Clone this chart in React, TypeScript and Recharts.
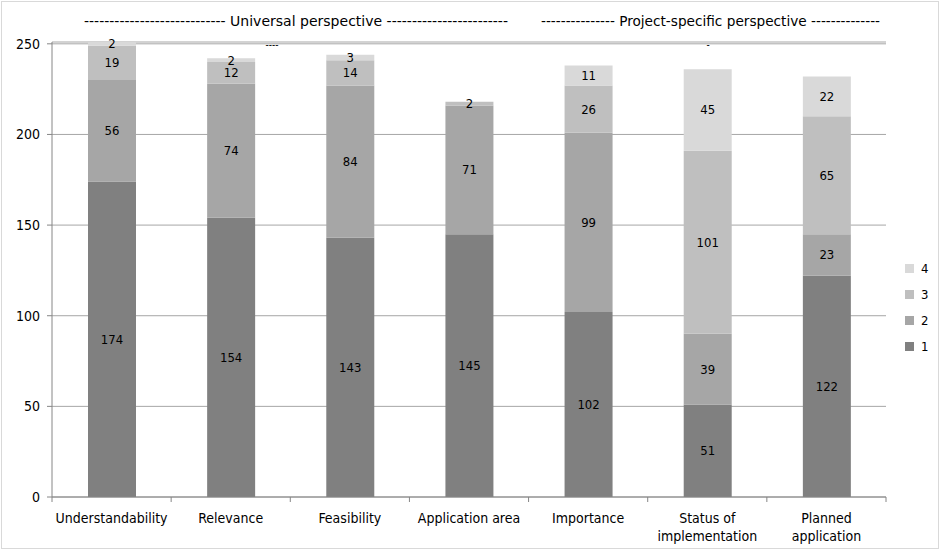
import React from 'react';
import { BarChart, Bar, XAxis, YAxis, CartesianGrid, Legend, LabelList } from 'recharts';

const categories = [
  'Understandability',
  'Relevance',
  'Feasibility',
  'Application area',
  'Importance',
  'Status of implementation',
  'Planned application',
];
// how Excel wrapped the axis labels
const categoryLines = [
  ['Understandability'],
  ['Relevance'],
  ['Feasibility'],
  ['Application area'],
  ['Importance'],
  ['Status of', 'implementation'],
  ['Planned', 'application'],
];

const series1 = [174, 154, 143, 145, 102, 51, 122];
const series2 = [56, 74, 84, 71, 99, 39, 23];
const series3 = [19, 12, 14, 2, 26, 101, 65];
const series4 = [2, 2, 3, 0, 11, 45, 22];

const yTicks = [0, 50, 100, 150, 200, 250];

const seriesKeys = ['1', '2', '3', '4'];
const colors = ['#808080', '#a6a6a6', '#bfbfbf', '#d9d9d9'];

const chartData = categories.map((name, i) => ({
  name,
  '1': series1[i],
  '2': series2[i],
  '3': series3[i],
  '4': series4[i],
}));

const FONT = "'Liberation Sans Narrow', 'DejaVu Sans Condensed', 'Liberation Sans', sans-serif";

const CategoryTick = (props: any) => {
  const { x, y, index, payload } = props;
  const step = 834 / categories.length;
  const lines = categoryLines[index] || [payload.value];
  return (
    <g>
      <line x1={x - step / 2} y1={y - 8} x2={x - step / 2} y2={y - 3} stroke="#868686" />
      {index === categories.length - 1 && (
        <line x1={x + step / 2} y1={y - 8} x2={x + step / 2} y2={y - 3} stroke="#868686" />
      )}
      <text x={x} y={y + 18} textAnchor="middle" fontSize={14} fill="#000" fontFamily={FONT}>
        {lines.map((l: string, i: number) => (
          <tspan key={i} x={x} dy={i === 0 ? 0 : 18}>{l}</tspan>
        ))}
      </text>
    </g>
  );
};

// Excel still prints the label of an empty segment, so draw it even at height 0
const SegmentLabel = (props: any) => {
  const { x, y, width, height, value } = props;
  if (value === undefined || value === null) return null;
  const shift = Number(value) === 0 ? -2 : 0;
  return (
    <text
      x={Number(x) + Number(width) / 2}
      y={Number(y) + Number(height) / 2 + shift}
      textAnchor="middle"
      dominantBaseline="central"
      fontSize={13}
      fill="#000"
      fontFamily={FONT}
    >
      {value}
    </text>
  );
};

const LegendBox = () => (
  <div style={{ fontFamily: FONT, fontSize: 13 }}>
    {[...seriesKeys].reverse().map((k) => (
      <div key={k} style={{ display: 'flex', alignItems: 'center', height: 26 }}>
        <div style={{ width: 9, height: 9, background: colors[Number(k) - 1], marginRight: 7 }} />
        <span>{k}</span>
      </div>
    ))}
  </div>
);

export default function App() {
  return (
    <div style={{ position: 'absolute', left: 0, top: 0, width: 940, height: 549, background: '#fff' }}>
      <div style={{ position: 'absolute', left: 1, top: 1, width: 936, height: 546, border: '1px solid #d9d9d9' }} />
      <BarChart
        width={940}
        height={549}
        data={chartData}
        margin={{ top: 42, right: 14, bottom: 22, left: 12 }}
        barSize={48}
      >
        <CartesianGrid vertical={false} stroke="#a6a6a6" />
        <XAxis
          dataKey="name"
          tick={<CategoryTick />}
          tickLine={false}
          axisLine={{ stroke: '#868686' }}
          interval={0}
        />
        <YAxis
          width={40}
          domain={[0, 250]}
          ticks={yTicks}
          tick={{ fontSize: 14, fill: '#000', fontFamily: FONT }}
          tickLine={{ stroke: '#868686' }}
          tickSize={5}
          tickMargin={7}
          axisLine={{ stroke: '#868686' }}
        />
        <Legend
          layout="vertical"
          verticalAlign="top"
          align="right"
          content={<LegendBox />}
          wrapperStyle={{ left: 905, top: 255, width: 40 }}
        />
        {seriesKeys.map((k, i) => (
          <Bar key={k} dataKey={k} stackId="a" fill={colors[i]} isAnimationActive={false}>
            <LabelList dataKey={k} content={<SegmentLabel />} />
          </Bar>
        ))}
      </BarChart>
      <svg width={940} height={60} style={{ position: 'absolute', left: 0, top: 0, pointerEvents: 'none' }}>
        <text x={84} y={26} fontSize={14} fontFamily={FONT} textLength={424} lengthAdjust="spacingAndGlyphs">
          ---------------------------- Universal perspective ------------------------
        </text>
        <text x={541} y={26} fontSize={14} fontFamily={FONT} textLength={339} lengthAdjust="spacingAndGlyphs">
          --------------- Project-specific perspective --------------
        </text>
        <text x={272} y={48} fontSize={10} textAnchor="middle" fontFamily={FONT}>----</text>
        <text x={708} y={48} fontSize={10} textAnchor="middle" fontFamily={FONT}>-</text>
      </svg>
    </div>
  );
}
